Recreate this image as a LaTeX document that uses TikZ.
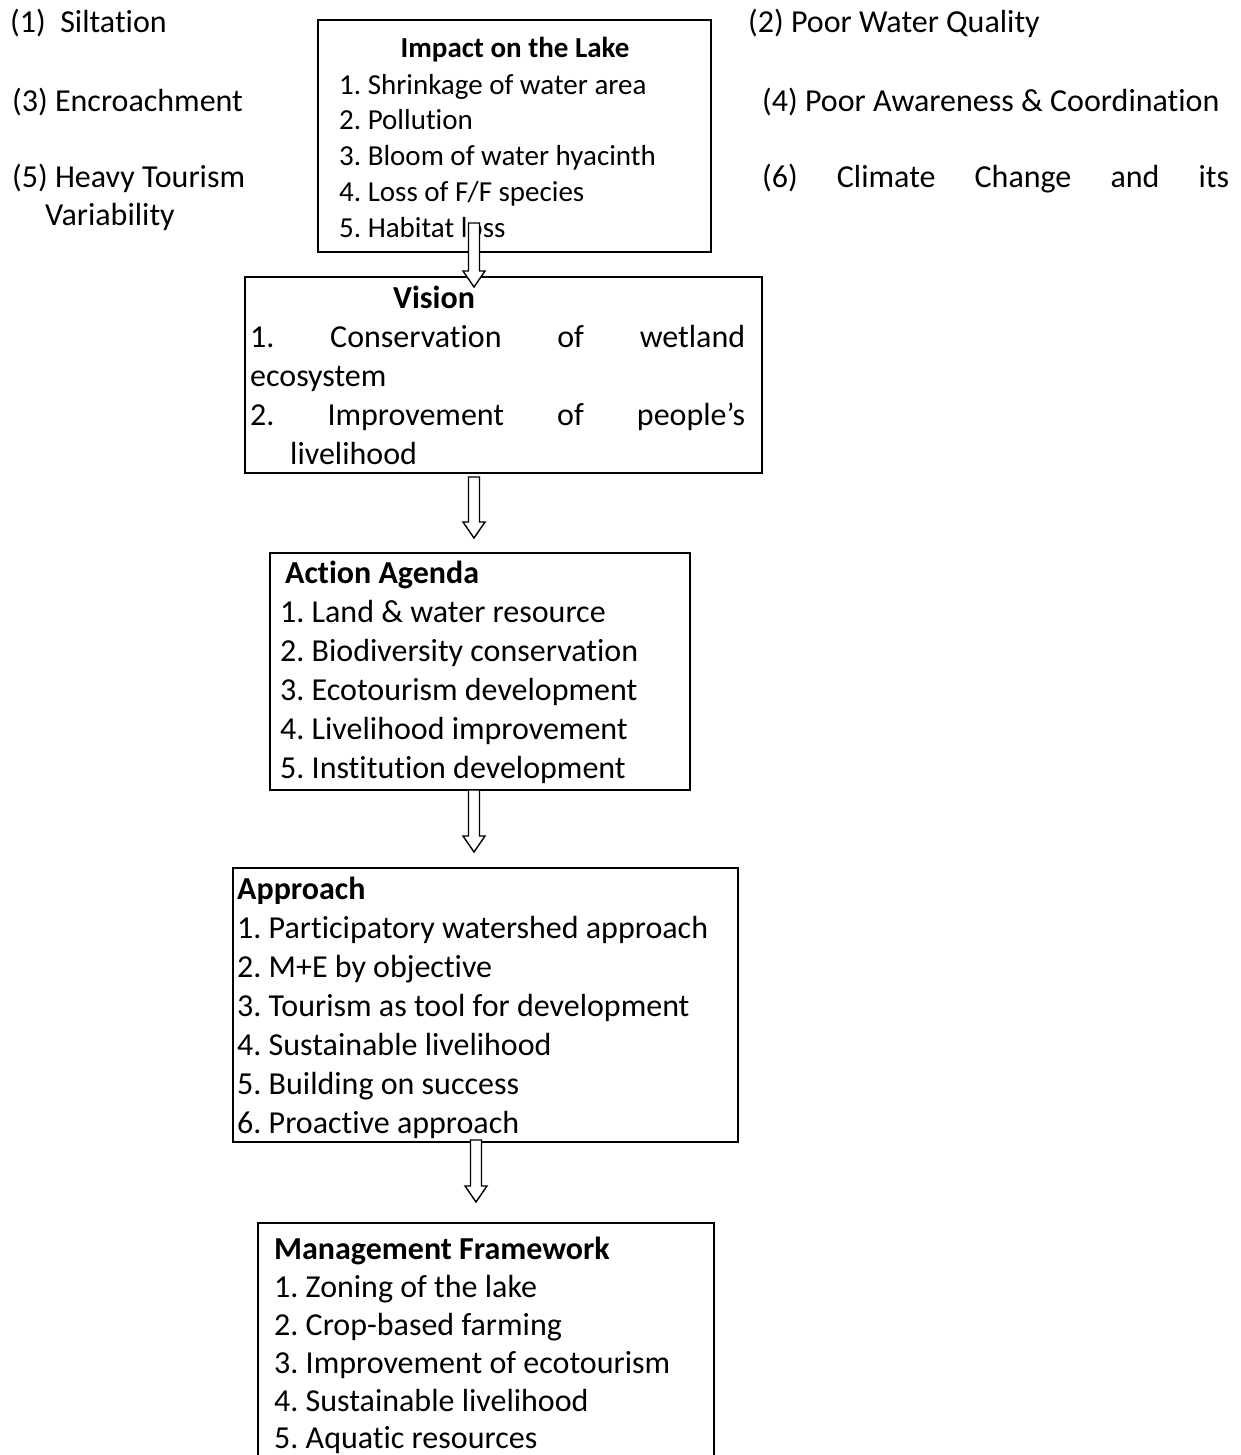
\documentclass[tikz,border=0pt]{standalone}
\usepackage{fontspec}
\setmainfont{Carlito}[Ligatures=NoCommon]
\frenchspacing
\usetikzlibrary{calc}
\tikzset{
  box/.style={draw, line width=1.8pt, inner sep=0pt},
  txt/.style={anchor=base west, inner sep=0pt, font=\fontsize{32}{39}\selectfont},
  txtc/.style={anchor=base, inner sep=0pt, font=\fontsize{32}{39}\selectfont},
  small/.style={anchor=base west, inner sep=0pt, font=\fontsize{29}{35.5}\selectfont},
  smallc/.style={anchor=base, inner sep=0pt, font=\fontsize{29}{35.5}\selectfont},
  harrow/.style={draw, fill=white, line width=1.4pt, line join=miter},
}
\newcommand\hollowarrow[2]{%
  \path[harrow] ($(#1)+(-5.5,0)$) -- ($(#1)+(5.5,0)$) -- ($(#2)+(5.5,-16)$)
    -- ($(#2)+(11,-16)$) -- (#2) -- ($(#2)+(-11,-16)$) -- ($(#2)+(-5.5,-16)$) -- cycle;}
\begin{document}
\begin{tikzpicture}[x=1pt,y=-1pt]
\useasboundingbox (0,0) rectangle (1241,1455);
% side labels
\node[txt] (c1) at (10,33) {(1)\ \ Siltation};
\node[txt] (c2) at (748,33) {(2) Poor Water Quality};
\node[txt] (c3) at (12,112) {(3) Encroachment};
\node[txt] (c4) at (762,112) {(4) Poor Awareness \& Coordination};
\node[txt] (c5) at (12,188) {(5) Heavy Tourism};
\node[txt] (c5b) at (45,226) {Variability};
\node[txt] (c6) at (762,188) {\makebox[467pt][s]{(6) Climate Change and its}};
% boxes
\node[box, minimum width=393pt, minimum height=232pt] (impact) at (514.5,136) {};
\node[box, minimum width=517pt, minimum height=196pt] (vision) at (503.5,375) {};
\node[box, minimum width=420pt, minimum height=237pt] (action) at (480,671.5) {};
\node[box, minimum width=505pt, minimum height=274pt] (approach) at (485.5,1005) {};
\coordinate (mgmtTL) at (258,1223);
\coordinate (mgmtTR) at (714,1223);
\draw[line width=1.8pt] ($(mgmtTL)+(0,240)$) -- (mgmtTL) -- (mgmtTR) -- ($(mgmtTR)+(0,240)$);
% impact text
\node[smallc, font=\fontsize{29}{35.5}\selectfont\bfseries] (it) at (515,58) {Impact on the Lake};
\node[small] (i1) at (339,95) {1. Shrinkage of water area};
\node[small] (i2) at (339,130) {2. Pollution};
\node[small] (i3) at (339,166) {3. Bloom of water hyacinth};
\node[small] (i4) at (339,202) {4. Loss of F/F species};
\node[small] (i5) at (339,237) {5. Habitat loss};
% vision text
\node[txtc, font=\fontsize{32}{39}\selectfont\bfseries] (vt) at (434,308) {Vision};
\node[txt] (v1) at (250,347) {\makebox[495pt][s]{1. Conservation of wetland}};
\node[txt] (v1b) at (250,386) {ecosystem};
\node[txt] (v2) at (250,425) {\makebox[495pt][s]{2. Improvement of people’s}};
\node[txt] (v2b) at (290,464) {livelihood};
% action text
\node[txt, font=\fontsize{32}{39}\selectfont\bfseries] (at) at (285,583) {Action Agenda};
\node[txt] (a1) at (280,622) {1. Land \& water resource};
\node[txt] (a2) at (280,661) {2. Biodiversity conservation};
\node[txt] (a3) at (280,700) {3. Ecotourism development};
\node[txt] (a4) at (280,739) {4. Livelihood improvement};
\node[txt] (a5) at (280,778) {5. Institution development};
% approach text
\node[txt, font=\fontsize{32}{39}\selectfont\bfseries] (pt) at (237,899) {Approach};
\node[txt] (p1) at (237,938) {1. Participatory watershed approach};
\node[txt] (p2) at (237,977) {2. M+E by objective};
\node[txt] (p3) at (237,1016) {3. Tourism as tool for development};
\node[txt] (p4) at (237,1055) {4. Sustainable livelihood};
\node[txt] (p5) at (237,1094) {5. Building on success};
\node[txt] (p6) at (237,1133) {6. Proactive approach};
% management text
\node[txt, font=\fontsize{32}{39}\selectfont\bfseries] (mt) at (274,1259) {Management Framework};
\node[txt] (m1) at (274,1297) {1. Zoning of the lake};
\node[txt] (m2) at (274,1335) {2. Crop-based farming};
\node[txt] (m3) at (274,1373) {3. Improvement of ecotourism};
\node[txt] (m4) at (274,1411) {4. Sustainable livelihood};
\node[txt] (m5) at (274,1448) {5. Aquatic resources};
% arrows
\coordinate (ar1s) at (474,223); \coordinate (ar1e) at (474,287);
\coordinate (ar2s) at (474,477); \coordinate (ar2e) at (474,538);
\coordinate (ar3s) at (474,790); \coordinate (ar3e) at (474,852);
\coordinate (ar4s) at (476,1140); \coordinate (ar4e) at (476,1202);
\hollowarrow{ar1s}{ar1e}
\hollowarrow{ar2s}{ar2e}
\hollowarrow{ar3s}{ar3e}
\hollowarrow{ar4s}{ar4e}
\end{tikzpicture}
\end{document}
